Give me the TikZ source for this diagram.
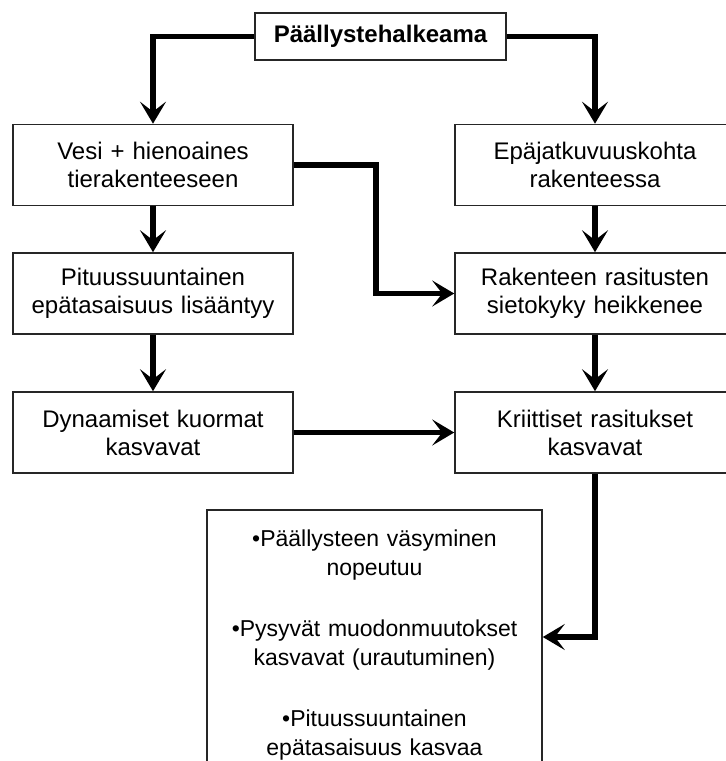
\documentclass[tikz,border=0pt]{standalone}
\usepackage{fontspec}
\setmainfont{Liberation Sans}
\usetikzlibrary{arrows.meta}
\begin{document}
\begin{tikzpicture}[x=1pt,y=-1pt,
		box/.style={draw=black!85,line width=1.6pt,rectangle,inner sep=0pt,minimum width=280pt,minimum height=81pt,text width=270pt,align=center,font=\fontsize{24}{28}\selectfont},
		arr/.style={line width=5.5pt,-{Stealth[length=22pt,width=26pt,inset=10pt]}}]
		\useasboundingbox (0,0) rectangle (726,761);
		\clip (0,0) rectangle (726,761);
		\node[box,minimum width=251pt,minimum height=47pt,text width=245pt,font=\fontsize{24}{28}\selectfont\bfseries] (top) at (380.5,36.5) {Päällystehalkeama};
		\node[box] (vesi) at (153,165) {Vesi + hienoaines\\tierakenteeseen};
		\node[box] (pit) at (153,293.5) {Pituussuuntainen\\epätasaisuus lisääntyy};
		\node[box] (dyn) at (153,432.5) {Dynaamiset kuormat\\kasvavat};
		\node[box] (epa) at (595,165) {Epäjatkuvuuskohta\\rakenteessa};
		\node[box] (sieto) at (595,293.5) {Rakenteen rasitusten\\sietokyky heikkenee};
		\node[box] (krit) at (595,432.5) {Kriittiset rasitukset\\kasvavat};
		\node[box,minimum width=335pt,minimum height=254pt,text width=325pt,font=\fontsize{23}{28.5}\selectfont] (seur) at (374.5,637) {\rule{0pt}{33pt}•Päällysteen väsyminen\\nopeutuu\\[33pt]•Pysyvät muodonmuutokset\\kasvavat (urautuminen)\\[33pt]•Pituussuuntainen\\epätasaisuus kasvaa};
		\coordinate (mid) at (376,230);
		\draw[arr] (top.west) -| (vesi.north);
		\draw[arr] (top.east) -| (epa.north);
		\draw[arr] (vesi) -- (pit);
		\draw[arr] (pit) -- (dyn);
		\draw[arr] (epa) -- (sieto);
		\draw[arr] (sieto) -- (krit);
		\draw[arr] (vesi.east) -| (mid) |- (sieto.west);
		\draw[arr] (dyn) -- (krit);
		\draw[arr] (krit.south) |- (seur.east);
	\end{tikzpicture}
\end{document}
